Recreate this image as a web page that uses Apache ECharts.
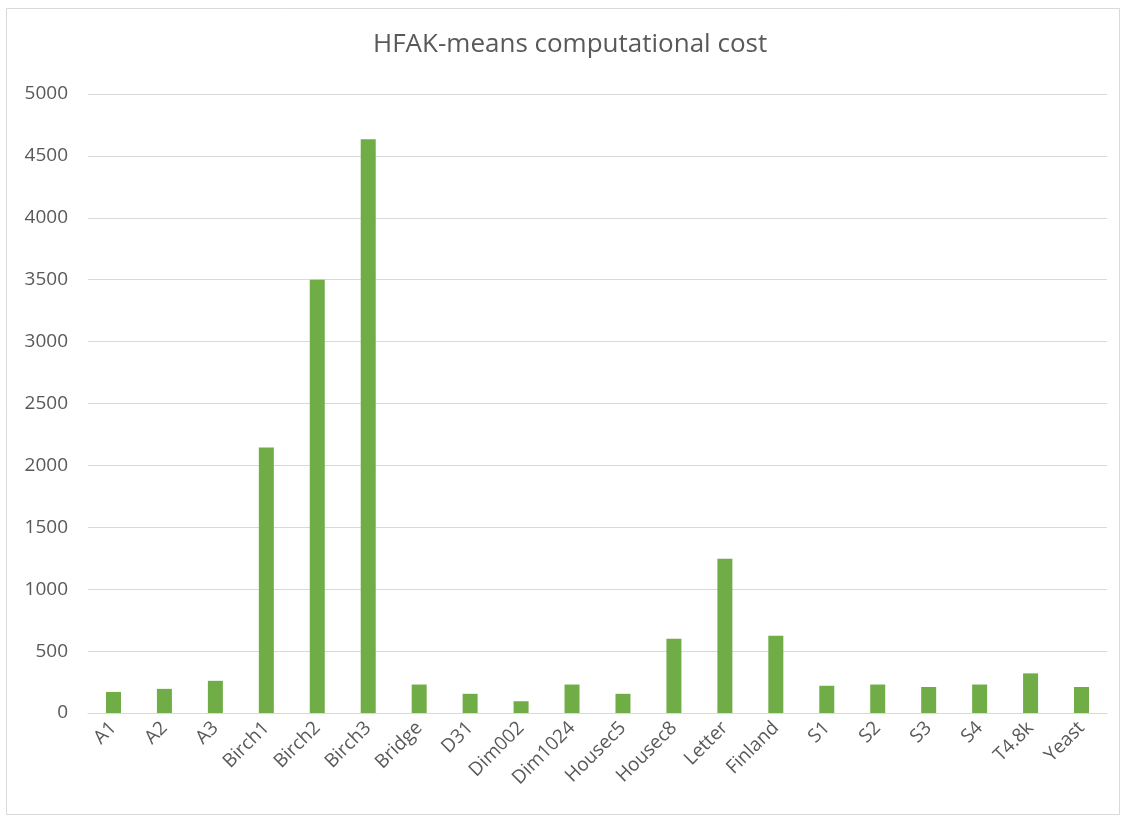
<!DOCTYPE html>
<html>
<head>
<meta charset="utf-8">
<script src="https://cdn.jsdelivr.net/npm/echarts@6/dist/echarts.min.js"></script>
<style>
html, body { margin: 0; padding: 0; background: #fff; }
#main { width: 1127px; height: 821px; }
</style>
</head>
<body>
<div id="main"></div>
<script>
var datasets = ['A1', 'A2', 'A3', 'Birch1', 'Birch2', 'Birch3', 'Bridge', 'D31', 'Dim002', 'Dim1024',
    'Housec5', 'Housec8', 'Letter', 'Finland', 'S1', 'S2', 'S3', 'S4', 'T4.8k', 'Yeast'];
var costs = [170, 195, 260, 2145, 3500, 4635, 230, 155, 95, 230,
    155, 600, 1245, 625, 220, 230, 210, 230, 320, 210];

var myChart = echarts.init(document.getElementById('main'));
var option = {
    backgroundColor: '#ffffff',
    animation: false,
    title: {
        text: 'HFAK-means computational cost',
        left: 368,
        top: 27,
        textStyle: {
            color: '#595959',
            fontSize: 26,
            fontWeight: 'normal',
            fontFamily: 'Open Sans'
        }
    },
    graphic: [{
        type: 'rect',
        shape: { x: 6.5, y: 8.5, width: 1113, height: 806 },
        style: { fill: 'none', stroke: '#d9d9d9', lineWidth: 1 },
        silent: true
    }],
    grid: {
        left: 88,
        right: 20,
        top: 94,
        bottom: 108
    },
    xAxis: {
        type: 'category',
        data: datasets,
        axisLine: { lineStyle: { color: '#d9d9d9' } },
        axisTick: { show: false },
        axisLabel: {
            rotate: 45,
            interval: 0,
            margin: 12,
            color: '#595959',
            fontSize: 19,
            fontFamily: 'Open Sans'
        }
    },
    yAxis: {
        type: 'value',
        min: 0,
        max: 5000,
        interval: 500,
        axisLine: { show: false },
        axisTick: { show: false },
        splitLine: { lineStyle: { color: '#d9d9d9' } },
        axisLabel: {
            margin: 20,
            color: '#595959',
            fontSize: 19,
            fontFamily: 'Open Sans',
            formatter: function (v) { return String(v); }
        }
    },
    series: [{
        type: 'bar',
        data: costs,
        barWidth: 15,
        itemStyle: { color: '#70AD47' }
    }]
};
myChart.setOption(option);

window.addEventListener('resize', function () {
    myChart.resize();
});
</script>
</body>
</html>
